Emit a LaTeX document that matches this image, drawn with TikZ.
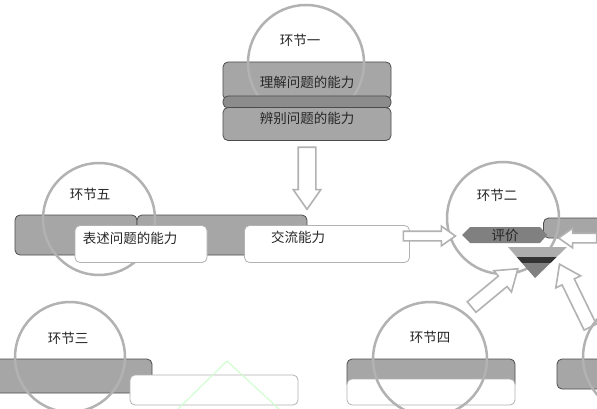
\documentclass[tikz,border=0pt]{standalone}
\usepackage{fontspec}
\newfontfamily\cjk{Noto Sans CJK SC}
\usetikzlibrary{shapes.arrows}
\tikzset{
  graybox/.style={draw=black!70, fill=black!35, line width=0.8pt, rounded corners=5pt, inner sep=0pt},
  bandbox/.style={draw=black!70, fill=black!45, line width=0.8pt, rounded corners=5pt, inner sep=0pt},
  whitebox/.style={draw=black!30, fill=white, line width=0.8pt, rounded corners=5pt, inner sep=0pt},
  ring/.style={circle, draw=black!30, line width=2.5pt, inner sep=0pt},
  lbl/.style={font=\cjk\fontsize{13.5}{14}\selectfont, text=black!85, inner sep=0pt},
  harrow/.style={single arrow, draw=black!30, fill=white, line width=1.6pt, single arrow tip angle=70},
}
\begin{document}
\begin{tikzpicture}[x=1pt,y=-1pt]
\clip (0,0) rectangle (597,409);
\fill[white] (0,0) rectangle (597,409);

% ---------- row 1: 环节一 ----------
\node[graybox, minimum width=168pt, minimum height=38pt] (a1) at (307,81) {};
\node[ring, minimum size=116pt] (c1) at (306,63) {};
\node[bandbox, minimum width=168pt, minimum height=12pt] (a2) at (307,102) {};
\node[graybox, minimum width=168pt, minimum height=33pt] (a3) at (307,124) {};
\node[lbl] (t1) at (300,40) {环节一};
\node[lbl] (ta1) at (307,82) {理解问题的能力};
\node[lbl] (ta3) at (307,118) {辨别问题的能力};

% down arrow
\node[harrow, inner sep=8pt, single arrow head extend=5pt, minimum height=62pt, rotate=-90] (ar1) at (307,172) {};

% ---------- row 2: 环节五 / 环节二 ----------
\node[graybox, minimum width=122pt, minimum height=40pt] (g5a) at (76,235) {};
\node[graybox, minimum width=170pt, minimum height=40pt] (g5b) at (222,235) {};
\node[graybox, minimum width=77pt, minimum height=20pt] (g2r) at (582,228) {};
\node[ring, minimum size=112pt] (c5) at (99,219) {};
\node[ring, minimum size=112pt] (c2) at (503,218) {};
\node[whitebox, minimum width=132pt, minimum height=37pt] (w1) at (141,244) {};
\node[whitebox, minimum width=165pt, minimum height=37pt] (w2) at (327,244) {};
\node[lbl] (t5) at (90,194) {环节五};
\node[lbl] (t2) at (497,195) {环节二};
\node[lbl] (tw1) at (130,238) {表述问题的能力};
\node[lbl] (tw2) at (298,237) {交流能力};

% 评价 pyramid
\fill[black!50] (470,227) -- (540,227) -- (547,235) -- (540,243) -- (470,243) -- (462,235) -- cycle;
\begin{scope}
  \clip (508,247) -- (567,247) -- (535,278) -- cycle;
  \fill[black!32] (500,246) rectangle (570,257);
  \fill[black!80] (500,257) rectangle (570,263);
  \fill[black!50] (500,263) rectangle (570,280);
\end{scope}
\node[lbl] (pj) at (505,235) {评价};

% arrows into 评价
\node[harrow, inner sep=4pt, single arrow head extend=5pt, minimum height=52pt] (ar2) at (426,236) {};
\node[harrow, inner sep=4pt, single arrow head extend=5pt, minimum height=38pt, rotate=180] (ar3) at (581,238) {};
\node[harrow, inner sep=6pt, single arrow head extend=7pt, minimum height=60pt, rotate=39.6] (ar4) at (491,291) {};
\node[harrow, inner sep=6pt, single arrow head extend=7pt, minimum height=70pt, rotate=116] (ar5) at (577,300) {};

% ---------- row 3: 环节三 / 环节四 ----------
\node[graybox, minimum width=162pt, minimum height=34pt] (g3) at (71,376) {};
\node[whitebox, minimum width=168pt, minimum height=30pt] (w3) at (214,390) {};
\node[graybox, minimum width=168pt, minimum height=30pt] (g4) at (431,374) {};
\node[whitebox, minimum width=168pt, minimum height=26pt] (w4) at (431,392) {};
\node[graybox, minimum width=60pt, minimum height=30pt] (g6) at (587,374) {};
\node[ring, minimum size=110pt] (c3) at (70,357) {};
\node[ring, minimum size=114pt] (c4) at (430,359) {};
\node[ring, minimum size=114pt] (c6) at (640,357) {};
\node[lbl] (t3) at (68,338) {环节三};
\node[lbl] (t4) at (430,337) {环节四};

% light green outline
\draw[green!20!white, line width=1pt] (178,409) -- (227,361) -- (279,409);
\end{tikzpicture}
\end{document}
